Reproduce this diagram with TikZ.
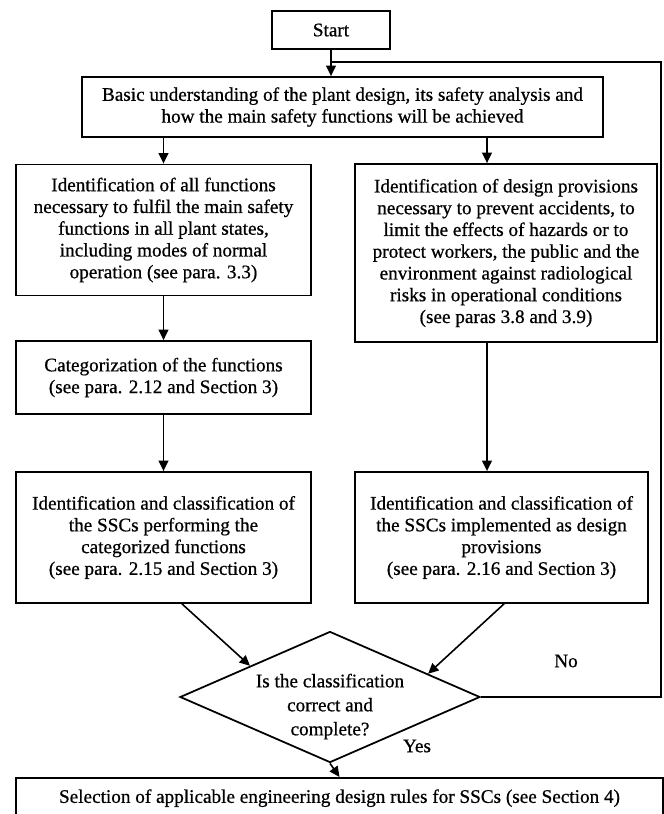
\documentclass[tikz,border=0pt]{standalone}
\usepackage{fontspec}
\setmainfont{Liberation Serif}[FakeBold=0.7]
\usetikzlibrary{shapes.geometric,arrows.meta,calc}

\newcommand*{\colL}{163.5}
\newcommand*{\colR}{487}

\begin{document}
\begin{tikzpicture}
[
	x=0.625pt,
	y=-0.625pt,
	box/.style={draw,line width=1.1pt,align=center,inner sep=0pt,font=\fontsize{12}{13.6}\selectfont},
	decision/.style={diamond,draw,line width=1.1pt,inner sep=0pt,aspect=2.3},
	question/.style={align=center,inner sep=0pt,font=\fontsize{12}{15}\selectfont},
	flow/.style={line width=1pt,-{Triangle[length=6.5pt,width=6pt]}},
	link/.style={line width=1pt}
]

	% frame
	\useasboundingbox (0,0) rectangle (664,814);
	\clip (0,0) rectangle (664,814);

	% boxes
	\node[box, minimum width=73.75pt, minimum height=23.75pt] at (331,30) (start) {Start};
	\node[box, minimum width=325.6pt, minimum height=37.5pt] at (342.5,107) (basic)
		{Basic understanding of the plant design, its safety analysis and\\
		how the main safety functions will be achieved};

	\node[box, minimum width=184.4pt, minimum height=81.9pt] at (\colL,230) (fun)
		{Identification of all functions\\
		necessary to fulfil the main safety\\
		functions in all plant states,\\
		including modes of normal\\
		operation (see para. 3.3)};
	\node[box, minimum width=188.75pt, minimum height=111.25pt] at (506,253) (prov)
		{Identification of design provisions\\
		necessary to prevent accidents, to\\
		limit the effects of hazards or to\\
		protect workers, the public and the\\
		environment against radiological\\
		risks in operational conditions\\
		(see paras 3.8 and 3.9)};

	\node[box, minimum width=184.4pt, minimum height=45.6pt] at (\colL,377.5) (cat)
		{Categorization of the functions\\
		(see para. 2.12 and Section 3)};

	\node[box, minimum width=184.4pt, minimum height=81.9pt] at (\colL,537.5) (sscf)
		{Identification and classification of\\
		the SSCs performing the\\
		categorized functions\\
		(see para. 2.15 and Section 3)};
	\node[box, minimum width=183.1pt, minimum height=81.9pt] at (501.5,537.5) (sscp)
		{Identification and classification of\\
		the SSCs implemented as design\\
		provisions\\
		(see para. 2.16 and Section 3)};

	\node[decision, minimum width=187.5pt, minimum height=81.9pt,
		label={[question,yshift=-6pt]center:{Is the classification\\ correct and\\ complete?}}]
		at (330,697) (check) {};

	\node[box, anchor=north, minimum width=404.4pt, text height=9pt, text depth=30pt, inner ysep=6.6pt] at (339.5,777) (rules)
		{Selection of applicable engineering design rules for SSCs (see Section 4)};

	% labels
	\node[font=\fontsize{12}{14}\selectfont] at (566,661) (no) {No};
	\node[font=\fontsize{12}{14}\selectfont] at (417,746) (yes) {Yes};

	% helper points
	\coordinate (pin) at (\colR,0);
	\coordinate (join) at (331,62);
	\coordinate (turn) at (661,62);

	% arrows
	\draw[flow] (start.south) -- (start.south |- basic.north);
	\draw[flow] (basic.south -| fun.north) -- (fun.north);
	\draw[flow] (basic.south -| pin) -- (prov.north -| pin);
	\draw[flow] (fun.south) -- (cat.north);
	\draw[flow] (cat.south) -- (sscf.north);
	\draw[flow] (prov.south -| pin) -- (sscp.north -| pin);
	\draw[flow] ($(sscf.south)+(18.5,0)$) -- ($(check.west)!0.47!(check.north)$);
	\draw[flow] ($(sscp.south)+(2.5,0)$) -- ($(check.north)!0.65!(check.east)$);
	\draw[flow] (check.south) -- (rules.north);

	% loop back
	\draw[link] (check.east) -| (turn) -- (join);

\end{tikzpicture}
\end{document}
